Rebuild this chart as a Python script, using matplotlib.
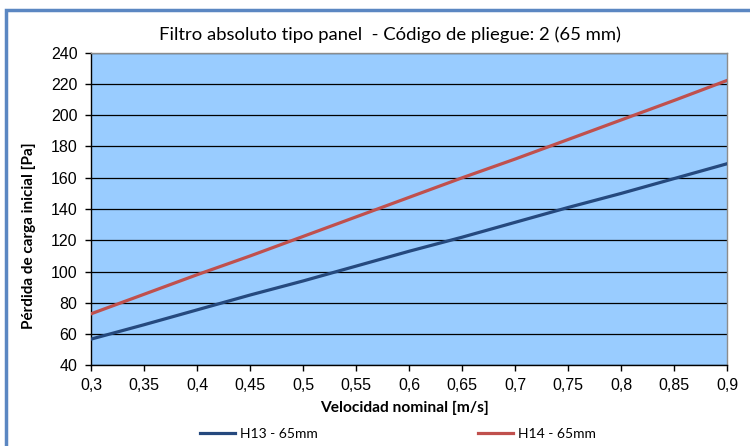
import matplotlib
matplotlib.use("Agg")
import matplotlib.pyplot as plt
from matplotlib.patches import Rectangle

# data
velocidad = [0.30, 0.35, 0.40, 0.45, 0.50, 0.55, 0.60, 0.65, 0.70, 0.75, 0.80, 0.85, 0.90]
h13 = [56.8, 66.0, 75.5, 85.0, 94.0, 103.5, 113.0, 122.0, 131.5, 141.0, 150.0, 159.5, 169.0]
h14 = [73.0, 85.5, 98.0, 110.0, 122.5, 135.0, 147.5, 160.0, 172.0, 184.5, 197.0, 209.5, 222.3]
series_names = ["H13 - 65mm", "H14 - 65mm"]
x_ticks = [0.3, 0.35, 0.4, 0.45, 0.5, 0.55, 0.6, 0.65, 0.7, 0.75, 0.8, 0.85, 0.9]
y_ticks = list(range(40, 241, 20))

title_font = "Lato"
tick_font = "Liberation Sans"

fig = plt.figure(figsize=(7.5, 4.46), dpi=100)
fig.patch.set_facecolor("white")

# blue frame round the chart (only top and left visible in the crop)
frame = Rectangle((5.5 / 750, -0.05), 1.2, (446 - 9.5) / 446 + 0.05,
                  transform=fig.transFigure, fill=False,
                  edgecolor="#5B87C2", linewidth=2.5, zorder=0)
fig.patches.append(frame)

ax = fig.add_axes([91.3 / 750, (446 - 365.3) / 446,
                   (727.3 - 91.3) / 750, (365.3 - 52.7) / 446])
ax.set_facecolor("#99CCFF")

ax.plot(velocidad, h13, color="#25497E", linewidth=2.3, label=series_names[0], zorder=3)
ax.plot(velocidad, h14, color="#C0504D", linewidth=2.3, label=series_names[1], zorder=3)

ax.set_xlim(0.3, 0.9)
ax.set_ylim(40, 240)
ax.set_xticks(x_ticks)
ax.set_yticks(y_ticks)
ax.set_xticklabels([f"{v:g}".replace(".", ",") for v in x_ticks],
                   fontfamily=tick_font, fontsize=11.5)
ax.set_yticklabels([str(v) for v in y_ticks], fontfamily=tick_font, fontsize=11.5)
ax.tick_params(axis="y", direction="out", length=4, width=1, color="black", pad=6)
ax.tick_params(axis="x", direction="out", length=4, width=1, color="black", pad=5)

ax.grid(axis="y", color="black", linewidth=0.9)
ax.set_axisbelow(True)

for side in ["top", "right"]:
    ax.spines[side].set_color("#8C8C8C")
    ax.spines[side].set_linewidth(1)
for side in ["left", "bottom"]:
    ax.spines[side].set_color("black")
    ax.spines[side].set_linewidth(1)

ax.set_xlabel("Velocidad nominal [m/s]", fontfamily=title_font, fontweight="bold",
              fontsize=11.2)
ax.xaxis.set_label_coords((404 - 91.3) / 636, -(401 - 365.3) / 312.6)
ax.set_ylabel("Pérdida de carga inicial [Pa]", fontfamily=title_font, fontweight="bold",
              fontsize=11)
ax.yaxis.set_label_coords(-(91.3 - 36) / 636, (365.3 - 236) / 312.6)

fig.text(0.52, (446 - 35) / 446, "Filtro absoluto tipo panel  - Código de pliegue: 2 (65 mm)",
         ha="center", va="center", fontfamily=title_font, fontsize=13.3)

fig.legend(loc="center", bbox_to_anchor=(398 / 750, 12 / 446), ncol=2, frameon=False,
           prop={"family": title_font, "size": 10}, handlelength=2.5,
           handletextpad=0.4, columnspacing=11.5)

fig.savefig("out.png", dpi=100)
